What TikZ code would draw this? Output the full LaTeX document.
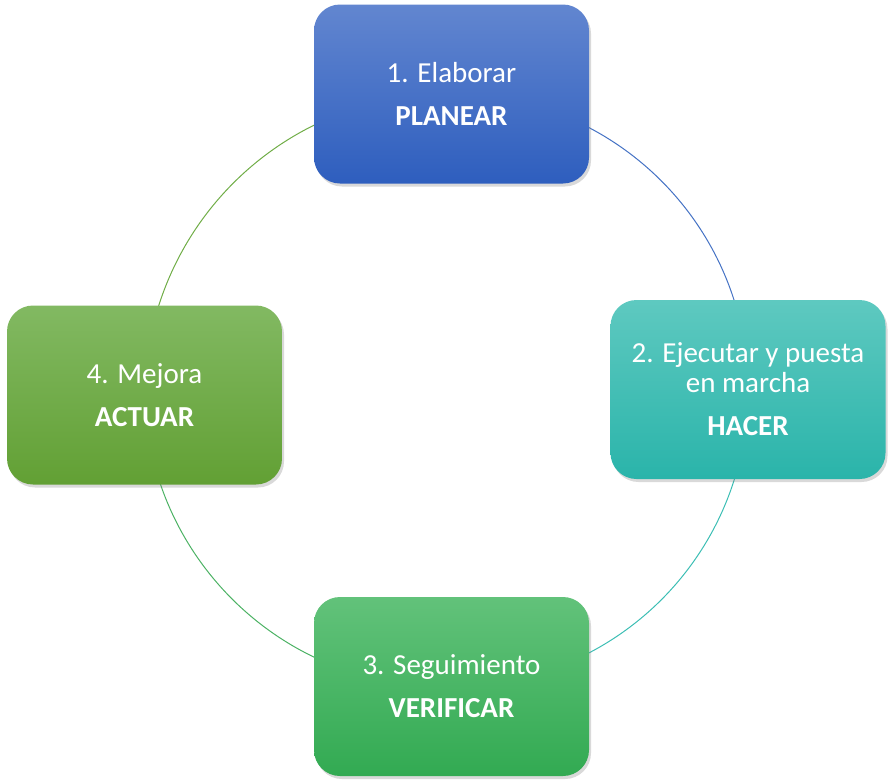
\documentclass[tikz,border=0pt]{standalone}
\usepackage{fontspec}
\setmainfont{Carlito}
\usetikzlibrary{positioning,shadows,backgrounds}

\definecolor{planTop}{RGB}{98,134,208}
\definecolor{planBot}{RGB}{46,94,190}
\definecolor{hacerTop}{RGB}{94,201,192}
\definecolor{hacerBot}{RGB}{42,180,170}
\definecolor{verifTop}{RGB}{98,194,122}
\definecolor{verifBot}{RGB}{50,170,82}
\definecolor{actuarTop}{RGB}{130,185,98}
\definecolor{actuarBot}{RGB}{98,160,52}
\definecolor{planLine}{RGB}{68,114,196}
\definecolor{hacerLine}{RGB}{60,190,180}
\definecolor{verifLine}{RGB}{76,178,100}
\definecolor{actuarLine}{RGB}{112,173,71}

\begin{document}
\begin{tikzpicture}[
  x=1pt, y=-1pt,
  font=\fontsize{29}{30}\selectfont,
  stage/.style={rounded corners=26pt, minimum width=275pt, minimum height=179pt, align=center,
                text=white, inner sep=0pt,
                drop shadow={opacity=0.3, shadow xshift=2pt, shadow yshift=-3pt}},
  link/.style={line width=1pt}
]
\useasboundingbox (0,0) rectangle (888,779);
\node[stage, top color=planTop, bottom color=planBot] (planear) at (451.5,94) {1. Elaborar\\[13pt]\textbf{PLANEAR}};
\node[stage, top color=hacerTop, bottom color=hacerBot] (hacer) at (748,389.5) {2. Ejecutar y puesta\\en marcha\\[13pt]\textbf{HACER}};
\node[stage, top color=verifTop, bottom color=verifBot] (verificar) at (451.5,686.5) {3. Seguimiento\\[13pt]\textbf{VERIFICAR}};
\node[stage, top color=actuarTop, bottom color=actuarBot] (actuar) at (144.5,395) {4. Mejora\\[13pt]\textbf{ACTUAR}};
% the cycle, behind the boxes
\begin{scope}[on background layer]
\draw[link, draw=planLine] (planear.center) to[bend left=45] (hacer.center);
\draw[link, draw=hacerLine] (hacer.center) to[bend left=45] (verificar.center);
\draw[link, draw=verifLine] (verificar.center) to[bend left=45] (actuar.center);
\draw[link, draw=actuarLine] (actuar.center) to[bend left=45] (planear.center);
\end{scope}
\end{tikzpicture}
\end{document}
